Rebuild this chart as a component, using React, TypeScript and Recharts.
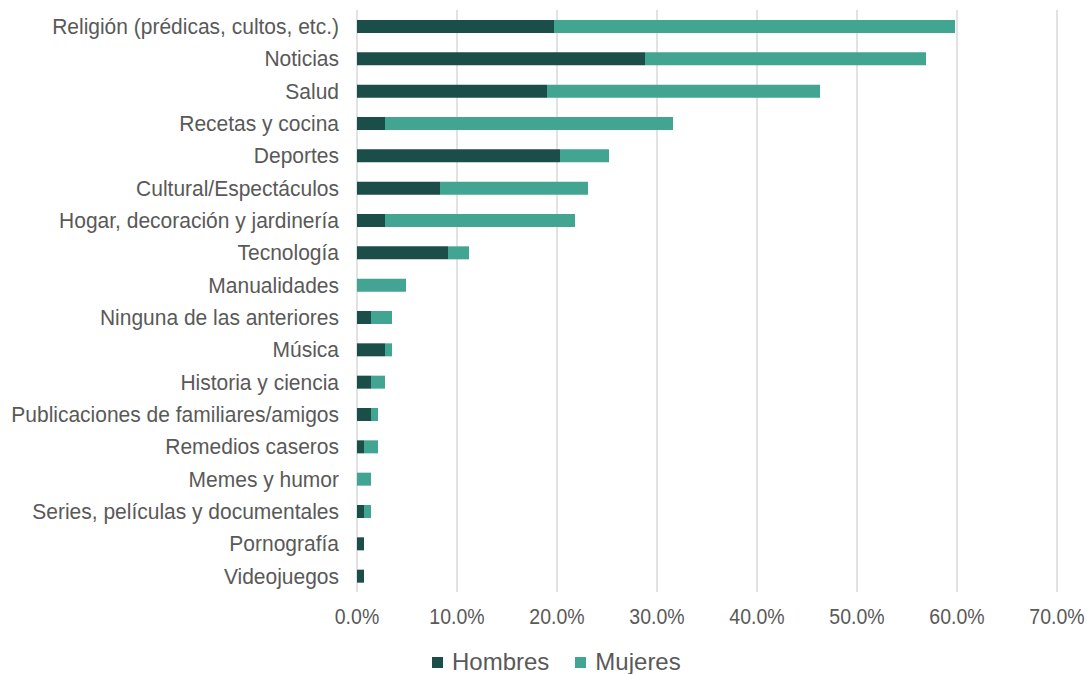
import React from "react";
import { BarChart, Bar, XAxis, YAxis, CartesianGrid, Legend } from "recharts";

const categories = [
  "Religión (prédicas, cultos, etc.)",
  "Noticias",
  "Salud",
  "Recetas y cocina",
  "Deportes",
  "Cultural/Espectáculos",
  "Hogar, decoración y jardinería",
  "Tecnología",
  "Manualidades",
  "Ninguna de las anteriores",
  "Música",
  "Historia y ciencia",
  "Publicaciones de familiares/amigos",
  "Remedios caseros",
  "Memes y humor",
  "Series, películas y documentales",
  "Pornografía",
  "Videojuegos",
];

const hombres = [0.197, 0.288, 0.19, 0.028, 0.203, 0.083, 0.028, 0.091, 0, 0.014, 0.028, 0.014, 0.014, 0.007, 0, 0.007, 0.007, 0.007];
const mujeres = [0.401, 0.281, 0.273, 0.288, 0.049, 0.148, 0.19, 0.021, 0.049, 0.021, 0.007, 0.014, 0.007, 0.014, 0.014, 0.007, 0, 0];

const xTicks = [0, 0.1, 0.2, 0.3, 0.4, 0.5, 0.6, 0.7];

const seriesNames = ["Hombres", "Mujeres"];
const colors = ["#1b4d49", "#42a592"];

const data = categories.map((c, i) => ({ name: c, Hombres: hombres[i], Mujeres: mujeres[i] }));

const FONT = "'Liberation Sans', Arial, sans-serif";

const XTick = (props: any) => {
  const { x, y, payload } = props;
  return (
    <text
      transform={`translate(${x} ${y}) scale(0.93 1.06)`}
      textAnchor="middle"
      dy="0.71em"
      fontSize={21}
      fill="#595959"
      fontFamily={FONT}
    >
      {(payload.value * 100).toFixed(1) + "%"}
    </text>
  );
};

const YTick = (props: any) => {
  const { x, y, payload } = props;
  return (
    <text
      transform={`translate(${x} ${y}) scale(1 1.03)`}
      textAnchor="end"
      dy="0.355em"
      fontSize={21}
      fill="#595959"
      fontFamily={FONT}
    >
      {payload.value}
    </text>
  );
};

const LegendContent = () => (
  <div style={{ display: "flex", alignItems: "center", fontFamily: FONT, fontSize: 24, color: "#595959", lineHeight: "26px" }}>
    {seriesNames.map((n, i) => (
      <div key={n} style={{ display: "flex", alignItems: "center", marginRight: 26 }}>
        <span style={{ display: "inline-block", width: 11, height: 11, background: colors[i], marginRight: 9 }} />
        <span>{n}</span>
      </div>
    ))}
  </div>
);

export default function App() {
  return (
    <div style={{ position: "absolute", left: 0, top: 0, background: "#fff" }}>
      <BarChart
        width={1087}
        height={674}
        data={data}
        layout="vertical"
        margin={{ top: 10, right: 30, bottom: 26, left: 0 }}
        barSize={13}
      >
        <CartesianGrid horizontal={false} vertical={true} stroke="#d9d9d9" strokeWidth={1.5} />
        <XAxis
          type="number"
          domain={[0, 0.7]}
          ticks={xTicks}
          axisLine={false}
          tickLine={false}
          tickSize={0}
          tickMargin={16}
          tick={<XTick />}
          interval={0}
          height={30}
        />
        <YAxis
          type="category"
          dataKey="name"
          width={357}
          axisLine={false}
          tickLine={false}
          tickSize={0}
          tickMargin={18}
          interval={0}
          tick={<YTick />}
        />
        {seriesNames.map((n, i) => (
          <Bar key={n} dataKey={n} stackId="a" fill={colors[i]} isAnimationActive={false} />
        ))}
        <Legend
          content={<LegendContent />}
          wrapperStyle={{ position: "absolute", left: 432, top: 649, width: "auto" }}
        />
      </BarChart>
    </div>
  );
}
